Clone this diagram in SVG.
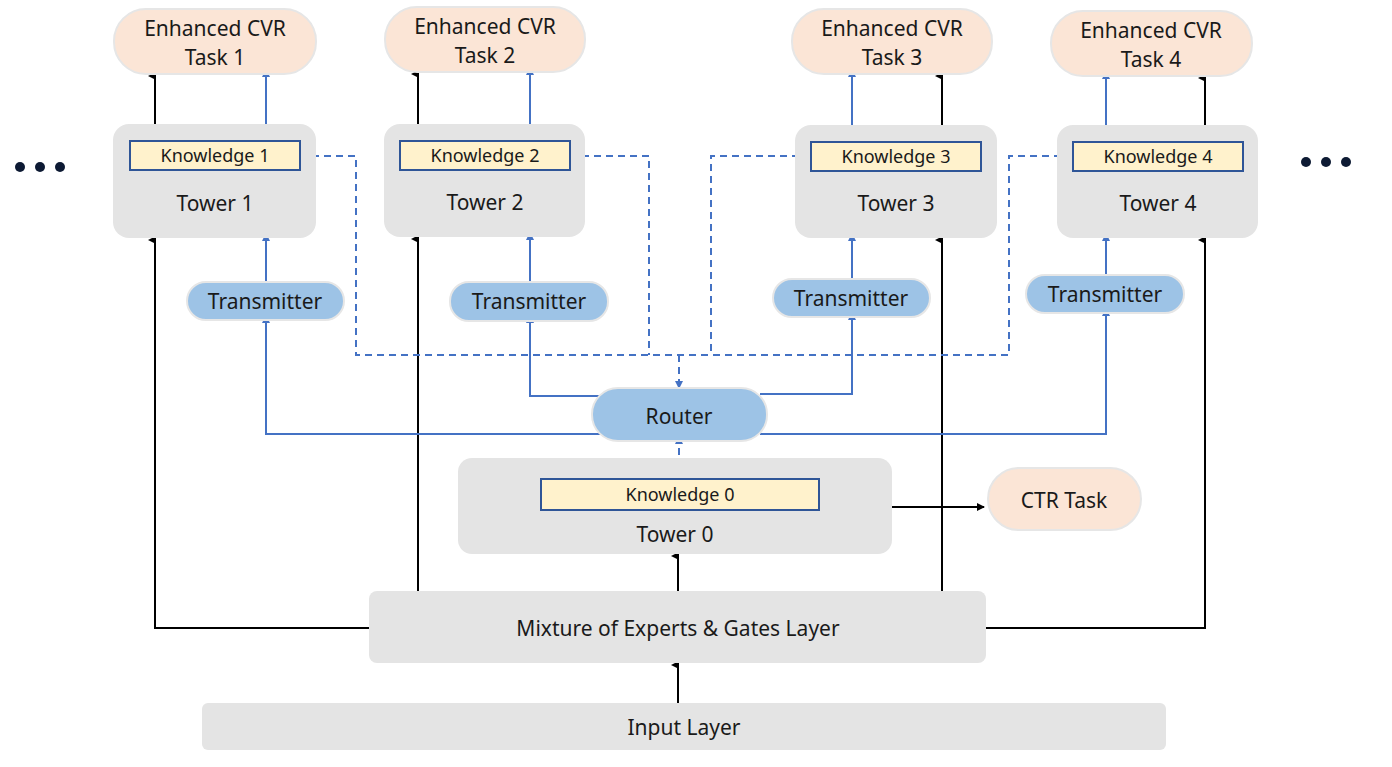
<svg xmlns="http://www.w3.org/2000/svg" width="1392" height="767" viewBox="0 0 1392 767">
<defs>
<marker id="ab" markerWidth="8" markerHeight="8" refX="4" refY="7" orient="auto-start-reverse" markerUnits="userSpaceOnUse" viewBox="0 0 8 8"><path d="M0,8 L4,0 L8,8 Z" fill="#000"/></marker>
<marker id="au" markerWidth="8" markerHeight="8" refX="4" refY="7" markerUnits="userSpaceOnUse" viewBox="0 0 8 8"><path d="M0,8 L4,0 L8,8 Z" fill="#4472C4"/></marker>
<marker id="ar" markerWidth="8" markerHeight="8" refX="7" refY="4" markerUnits="userSpaceOnUse" viewBox="0 0 8 8"><path d="M0,0 L8,4 L0,8 Z" fill="#000"/></marker>
<marker id="ad" markerWidth="8" markerHeight="8" refX="4" refY="7" markerUnits="userSpaceOnUse" viewBox="0 0 8 8"><path d="M0,0 L4,8 L8,0 Z" fill="#4472C4"/></marker>
</defs>
<style>
text{font-family:"Microsoft YaHei","Noto Sans","DejaVu Sans",sans-serif;fill:#1a1a1a;text-anchor:middle}
.t{font-size:21px}.k{font-size:18px}
.task{fill:#FBE5D6;stroke:#e6e6e6;stroke-width:2}
.gray{fill:#E4E4E4}
.kn{fill:#FFF2CC;stroke:#2F5597;stroke-width:2}
.tr{fill:#9DC3E6;stroke:#e6e6e6;stroke-width:2}
.b{stroke:#000;stroke-width:2;fill:none}
.u{stroke:#4472C4;stroke-width:2;fill:none}
.d{stroke:#4472C4;stroke-width:2;fill:none;stroke-dasharray:7,5}
</style>
<g id="dots"><circle cx="20" cy="167" r="5" fill="#0d1a33"/><circle cx="40" cy="167" r="5" fill="#0d1a33"/><circle cx="60" cy="167" r="5" fill="#0d1a33"/><circle cx="1306" cy="162" r="5" fill="#0d1a33"/><circle cx="1326" cy="162" r="5" fill="#0d1a33"/><circle cx="1346" cy="162" r="5" fill="#0d1a33"/></g>
<g id="connectors">
<path class="b" d="M155,124V76" marker-end="url(#ab)"/><path class="u" d="M266,124V76" marker-end="url(#au)"/>
<path class="b" d="M418,124V74" marker-end="url(#ab)"/><path class="u" d="M530,124V74" marker-end="url(#au)"/>
<path class="u" d="M852,125V76" marker-end="url(#au)"/><path class="b" d="M942,125V76" marker-end="url(#ab)"/>
<path class="u" d="M1106,125V78" marker-end="url(#au)"/><path class="b" d="M1205,125V78" marker-end="url(#ab)"/>
<path class="u" d="M266,282V240" marker-end="url(#au)"/><path class="u" d="M530,282V239" marker-end="url(#au)"/>
<path class="u" d="M852,279V240" marker-end="url(#au)"/><path class="u" d="M1106,275V240" marker-end="url(#au)"/>
<path class="b" d="M369,628H155V240" marker-end="url(#ab)"/>
<path class="b" d="M418,591V239" marker-end="url(#ab)"/>
<path class="b" d="M942,591V240" marker-end="url(#ab)"/>
<path class="b" d="M986,628H1205V240" marker-end="url(#ab)"/>
<path class="d" d="M300,156H356V355H1009V156H1073"/>
<path class="d" d="M570,156H649V355"/><path class="d" d="M811,156H711V355"/>
<path class="d" d="M679,355V388" marker-end="url(#ad)"/>
<path class="d" d="M679,479V443" marker-end="url(#au)"/>
<path class="u" d="M600,396H530V322" marker-end="url(#au)"/>
<path class="u" d="M760,394H852V319" marker-end="url(#au)"/>
<path class="u" d="M600,434H266V322" marker-end="url(#au)"/>
<path class="u" d="M760,434H1106V315" marker-end="url(#au)"/>
<path class="b" d="M892,507H984" marker-end="url(#ar)"/>
<path class="b" d="M678,703V665" marker-end="url(#ab)"/>
<path class="b" d="M678,591V556" marker-end="url(#ab)"/>
</g>
<g id="task1"><rect class="task" x="114" y="9" width="202" height="65" rx="32"/><text class="t" x="215" y="36">Enhanced CVR</text><text class="t" x="215" y="65">Task 1</text></g>
<g id="task2"><rect class="task" x="385" y="7" width="200" height="65" rx="32"/><text class="t" x="485" y="34">Enhanced CVR</text><text class="t" x="485" y="63">Task 2</text></g>
<g id="task3"><rect class="task" x="792" y="9" width="200" height="65" rx="32"/><text class="t" x="892" y="36">Enhanced CVR</text><text class="t" x="892" y="65">Task 3</text></g>
<g id="task4"><rect class="task" x="1051" y="11" width="201" height="65" rx="32"/><text class="t" x="1151" y="38">Enhanced CVR</text><text class="t" x="1151" y="67">Task 4</text></g>
<g id="tower1"><rect class="gray" x="113" y="124" width="203" height="114" rx="16"/><rect class="kn" x="130" y="141" width="170" height="29"/><text class="k" x="215" y="162">Knowledge 1</text><text class="t" x="215" y="211">Tower 1</text></g>
<g id="tower2"><rect class="gray" x="384" y="124" width="201" height="113" rx="16"/><rect class="kn" x="400" y="141" width="170" height="29"/><text class="k" x="485" y="162">Knowledge 2</text><text class="t" x="485" y="210">Tower 2</text></g>
<g id="tower3"><rect class="gray" x="795" y="125" width="202" height="113" rx="16"/><rect class="kn" x="811" y="142" width="170" height="29"/><text class="k" x="896" y="163">Knowledge 3</text><text class="t" x="896" y="211">Tower 3</text></g>
<g id="tower4"><rect class="gray" x="1057" y="125" width="201" height="113" rx="16"/><rect class="kn" x="1073" y="142" width="170" height="29"/><text class="k" x="1158" y="163">Knowledge 4</text><text class="t" x="1158" y="211">Tower 4</text></g>
<g id="trans1"><rect class="tr" x="187" y="282" width="157" height="38" rx="19"/><text class="t" x="265" y="309">Transmitter</text></g>
<g id="trans2"><rect class="tr" x="450" y="282" width="158" height="39" rx="19"/><text class="t" x="529" y="309">Transmitter</text></g>
<g id="trans3"><rect class="tr" x="773" y="279" width="157" height="38" rx="19"/><text class="t" x="851" y="306">Transmitter</text></g>
<g id="trans4"><rect class="tr" x="1026" y="275" width="158" height="38" rx="19"/><text class="t" x="1105" y="302">Transmitter</text></g>
<g id="router"><rect class="tr" x="592" y="388" width="175" height="53" rx="26"/><text class="t" x="679" y="424">Router</text></g>
<g id="tower0"><rect class="gray" x="458" y="458" width="434" height="96" rx="14"/><rect class="kn" x="541" y="479" width="278" height="31"/><text class="k" x="680" y="501">Knowledge 0</text><text class="t" x="675" y="542">Tower 0</text></g>
<g id="ctr"><rect class="task" x="988" y="468" width="153" height="62" rx="31"/><text class="t" x="1064" y="508">CTR Task</text></g>
<g id="moe"><rect class="gray" x="369" y="591" width="617" height="72" rx="8"/><text class="t" x="678" y="636">Mixture of Experts  &amp;  Gates Layer</text></g>
<g id="input"><rect class="gray" x="202" y="703" width="964" height="47" rx="6"/><text class="t" x="684" y="735">Input Layer</text></g>
</svg>
